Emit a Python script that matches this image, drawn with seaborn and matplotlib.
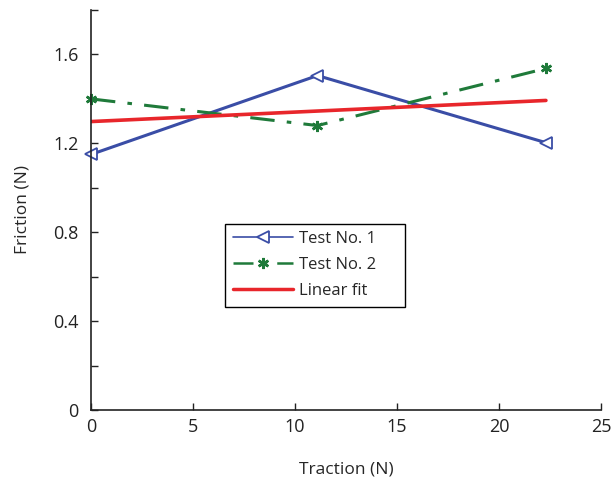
import matplotlib
matplotlib.use("Agg")
import matplotlib.pyplot as plt
import seaborn as sns
import pandas as pd
from matplotlib.ticker import MultipleLocator

traction = [0.0, 11.1, 22.3]
test1 = [1.15, 1.505, 1.203]
test2 = [1.40, 1.28, 1.537]
fit_x = [0.0, 22.3]
fit_y = [1.298, 1.393]
ytick_vals = [0, 0.4, 0.8, 1.2, 1.6]
ytick_labels = ["0", "0.4", "0.8", "1.2", "1.6"]
xtick_vals = [0, 5, 10, 15, 20, 25]

sns.set_theme(style="ticks")
plt.rcParams['font.family'] = ['Open Sans', 'DejaVu Sans']

fig = plt.figure(figsize=(6.15, 4.92), dpi=100)
ax = fig.add_axes([91/615, 1-410/492, (601-91)/615, (410-10)/492])

blue = "#3A4DA6"
green = "#1F7A3A"
red = "#E8262B"

df1 = pd.DataFrame({"x": traction, "y": test1})
df2 = pd.DataFrame({"x": traction, "y": test2})
df3 = pd.DataFrame({"x": fit_x, "y": fit_y})

sns.lineplot(data=df1, x="x", y="y", ax=ax, color=blue, lw=2.2, marker="<",
             markersize=9, markerfacecolor="white", markeredgecolor=blue,
             markeredgewidth=1.3, label="Test No. 1", clip_on=False)
sns.lineplot(data=df2, x="x", y="y", ax=ax, color=green, lw=2.2, marker=(6, 2, 0),
             markersize=8, markeredgecolor=green, markeredgewidth=1.8,
             label="Test No. 2", clip_on=False)
ax.lines[-1].set_dashes([8, 4, 1.5, 4])
sns.lineplot(data=df3, x="x", y="y", ax=ax, color=red, lw=2.6, label="Linear fit")

ax.set_xlim(0, 25)
ax.set_ylim(0, 1.8)
ax.set_xticks(xtick_vals)
ax.set_xticklabels([str(v) for v in xtick_vals])
ax.set_yticks(ytick_vals)
ax.set_yticklabels(ytick_labels)
ax.yaxis.set_minor_locator(MultipleLocator(0.2))
ax.tick_params(which="both", direction="in", labelsize=13, colors="#222222", length=5, width=1)
ax.tick_params(axis="x", pad=6)
ax.tick_params(axis="y", pad=9)
ax.tick_params(which="minor", length=5)
for s in ["top", "right"]:
    ax.spines[s].set_visible(False)
for s in ["left", "bottom"]:
    ax.spines[s].set_color("#222222")
    ax.spines[s].set_linewidth(1.2)

ax.set_xlabel("Traction (N)", fontsize=12.5, labelpad=18)
ax.set_ylabel("Friction (N)", fontsize=12.5, labelpad=16)

leg = ax.legend(loc="upper left",
                bbox_to_anchor=(225/615, 1-224/492, 180/615, 0.001),
                bbox_transform=fig.transFigure, mode="expand", fontsize=12,
                frameon=True, fancybox=False, edgecolor="black", framealpha=1,
                handlelength=3.6, handletextpad=0.4, borderpad=0.45,
                labelspacing=0.6, borderaxespad=0)
leg.get_frame().set_linewidth(1.0)
hl = leg.get_lines()
hl[0].set_linewidth(1.2)
hl[1].set_linewidth(1.8)
hl[2].set_linewidth(2.5)

fig.savefig("out.png", dpi=100)
